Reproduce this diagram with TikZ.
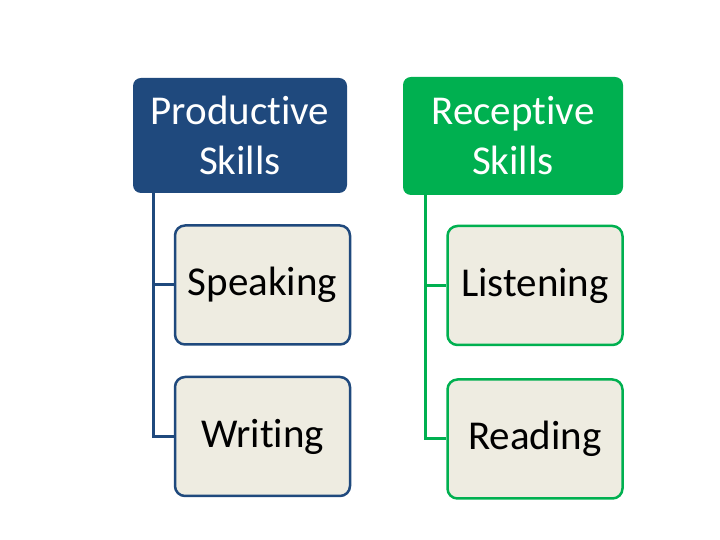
\documentclass[tikz,border=0pt]{standalone}
\usepackage{fontspec}
\setmainfont[Ligatures=NoCommon]{Carlito}
\usetikzlibrary{positioning}
\definecolor{skillblue}{RGB}{31,73,125}
\definecolor{skillgreen}{RGB}{0,176,80}
\definecolor{skillbeige}{RGB}{238,236,225}
\tikzstyle{head} = [rectangle, rounded corners=8pt, text=white,
    align=center, inner sep=0pt, font=\fontsize{41}{50}\selectfont]
\tikzstyle{leaf} = [rectangle, draw, line width=2.5pt, fill=skillbeige,
    rounded corners=10pt, minimum width=175pt, minimum height=119pt,
    font=\fontsize{41}{50}\selectfont]

\begin{document}
\begin{tikzpicture}[x=1pt,y=1pt,conn/.style={line width=3pt}]
  \useasboundingbox (0,0) rectangle (720,540);
  \node[head, fill=skillblue, minimum width=214pt, minimum height=115pt] (prod) at (240,404.5) {Productive\\Skills};
  \node[leaf, draw=skillblue] (speak) at (262.5,255) {Speaking};
  \node[leaf, draw=skillblue] (write) [below=30pt of speak] {Writing};

  \node[head, fill=skillgreen, minimum width=220pt, minimum height=118pt] (rec) at (513,404) {Receptive\\Skills};
  \node[leaf, draw=skillgreen] (listen) at (535,254.5) {Listening};
  \node[leaf, draw=skillgreen] (read) [below=32pt of listen] {Reading};

  \draw[conn, skillblue] ([xshift=21pt]prod.south west) |- (speak.west);
  \draw[conn, skillblue] ([xshift=21pt]prod.south west) |- (write.west);
  \draw[conn, skillgreen] ([xshift=23pt]rec.south west) |- (listen.west);
  \draw[conn, skillgreen] ([xshift=23pt]rec.south west) |- (read.west);
\end{tikzpicture}
\end{document}
